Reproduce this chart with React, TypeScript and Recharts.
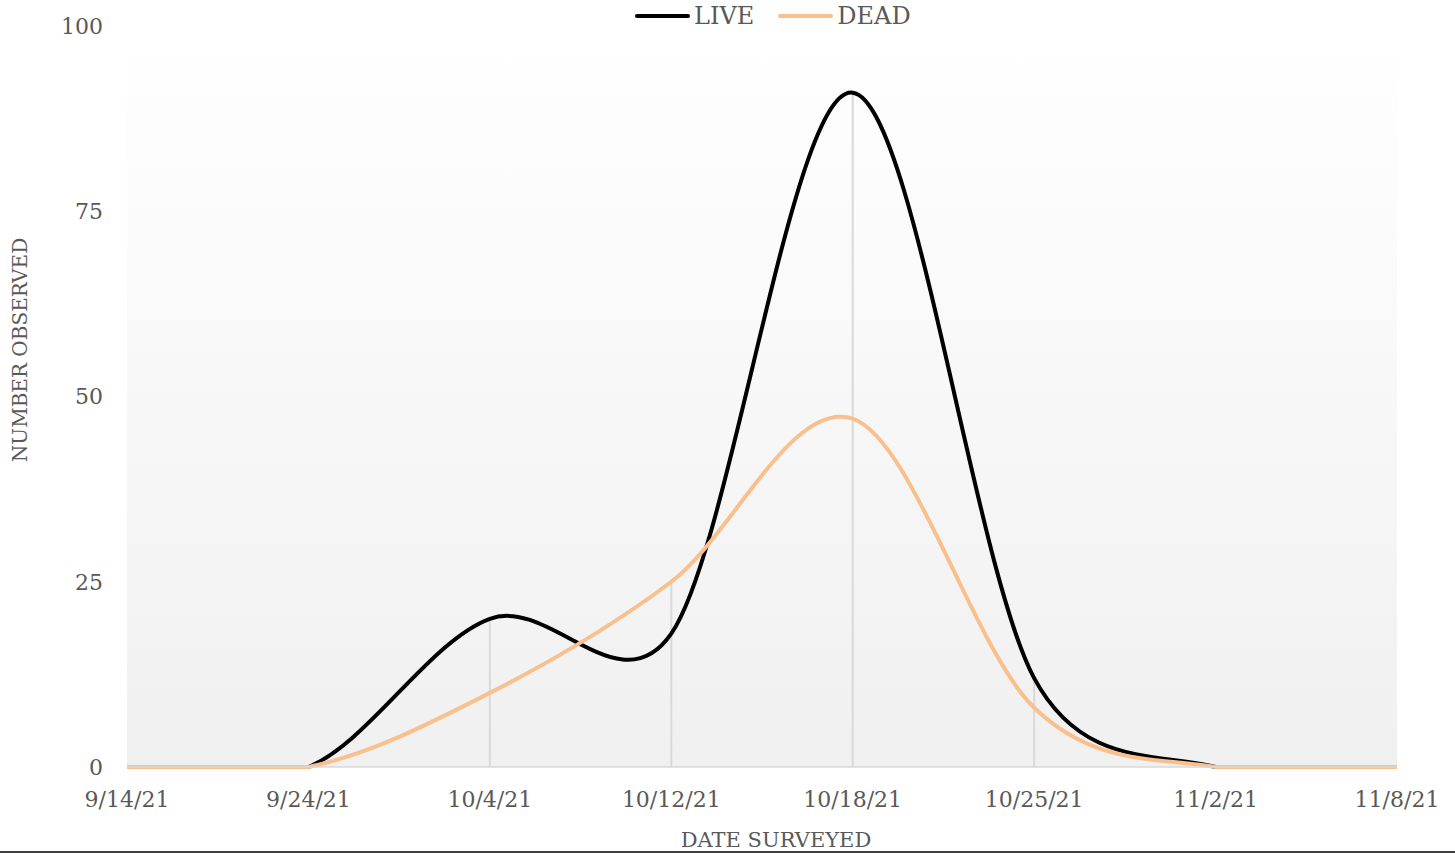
import { ComposedChart, Line, XAxis, YAxis, CartesianGrid, ReferenceLine, Label } from 'recharts'

const dates = ['9/14/21', '9/24/21', '10/4/21', '10/12/21', '10/18/21', '10/25/21', '11/2/21', '11/8/21']
const live = [0, 0, 20, 18, 91, 12, 0, 0]
const dead = [0, 0, 10, 25, 47, 8, 0, 0]
const yTicks = [0, 25, 50, 75, 100]

const data = dates.map((date, i) => ({ date, live: live[i], dead: dead[i] }))

const FONT = '"DejaVu Serif", serif'
const TEXT = '#595959'
const LIVE_COLOR = '#000000'
const DEAD_COLOR = '#f9c08e'

// smoothed line like the spreadsheet one: catmull-rom beziers (1/6),
// handles capped at half the segment, flat runs stay flat
function smoothCurve(context: any) {
  let pts: number[][] = []
  const handle = (dx: number, dy: number, seg: number) => {
    const len = Math.hypot(dx, dy)
    const k = len > seg * 0.5 ? (seg * 0.5) / len : 1
    return [dx * k, dy * k]
  }
  return {
    areaStart() {},
    areaEnd() {},
    lineStart() {
      pts = []
    },
    point(x: number, y: number) {
      pts.push([+x, +y])
    },
    lineEnd() {
      const n = pts.length
      if (!n) return
      context.moveTo(pts[0][0], pts[0][1])
      for (let i = 0; i < n - 1; i++) {
        const p0 = pts[Math.max(i - 1, 0)]
        const p1 = pts[i]
        const p2 = pts[i + 1]
        const p3 = pts[Math.min(i + 2, n - 1)]
        const seg = Math.hypot(p2[0] - p1[0], p2[1] - p1[1])
        const flat = Math.abs(p1[1] - p2[1]) < 0.01
        const h1 = handle((p2[0] - p0[0]) / 6, (p2[1] - p0[1]) / 6, seg)
        const h2 = handle((p3[0] - p1[0]) / 6, (p3[1] - p1[1]) / 6, seg)
        context.bezierCurveTo(
          p1[0] + h1[0],
          flat ? p1[1] : p1[1] + h1[1],
          p2[0] - h2[0],
          flat ? p2[1] : p2[1] - h2[1],
          p2[0],
          p2[1]
        )
      }
    },
  }
}

function LegendBox() {
  const items = [
    { name: 'LIVE', color: LIVE_COLOR },
    { name: 'DEAD', color: DEAD_COLOR },
  ]
  return (
    <div style={{ position: 'absolute', left: 635, top: 2, display: 'flex', alignItems: 'center', gap: 24 }}>
      {items.map((it) => (
        <div key={it.name} style={{ display: 'flex', alignItems: 'center' }}>
          <span style={{ display: 'inline-block', width: 55, height: 4, borderRadius: 2, background: it.color, marginRight: 4 }} />
          <span style={{ fontFamily: FONT, fontSize: 24, color: TEXT, lineHeight: '28px' }}>{it.name}</span>
        </div>
      ))}
    </div>
  )
}

export default function App() {
  return (
    <div style={{ position: 'absolute', left: 0, top: 0, width: 1455, height: 854, background: '#fff' }}>
      <ComposedChart width={1455} height={854} data={data} margin={{ top: 26, right: 58, bottom: 57, left: 27 }}>
        <defs>
          <linearGradient id="plotBg" x1="0" y1="0" x2="0" y2="1">
            <stop offset="0%" stopColor="#ffffff" />
            <stop offset="100%" stopColor="#f0f0f0" />
          </linearGradient>
        </defs>
        <CartesianGrid horizontal={false} vertical={false} fill="url(#plotBg)" />
        <XAxis
          dataKey="date"
          scale="point"
          interval={0}
          tickLine={false}
          tickSize={0}
          tickMargin={24}
          axisLine={{ stroke: '#d9d9d9', strokeWidth: 1.5 }}
          tick={{ fill: TEXT, fontSize: 22, fontFamily: FONT }}
        >
          <Label
            content={() => (
              <text x={776} y={847} textAnchor="middle" fill={TEXT} fontSize={21} fontFamily={FONT}>
                DATE SURVEYED
              </text>
            )}
          />
        </XAxis>
        <YAxis
          width={100}
          domain={[0, 100]}
          ticks={yTicks}
          axisLine={false}
          tickLine={false}
          tickSize={0}
          tickMargin={24}
          tick={{ fill: TEXT, fontSize: 22, fontFamily: FONT }}
        >
          <Label
            content={() => (
              <text
                x={27}
                y={350}
                textAnchor="middle"
                fill={TEXT}
                fontSize={20}
                fontFamily={FONT}
                transform="rotate(-90 27 350)"
              >
                NUMBER OBSERVED
              </text>
            )}
          />
        </YAxis>
        {data
          .filter((d) => Math.max(d.live, d.dead) > 0)
          .map((d) => (
            <ReferenceLine
              key={d.date}
              segment={[
                { x: d.date, y: 0 },
                { x: d.date, y: Math.max(d.live, d.dead) },
              ]}
              stroke="#d9d9d9"
              strokeWidth={2}
            />
          ))}
        <Line
          dataKey="live"
          name="LIVE"
          type={smoothCurve as any}
          stroke={LIVE_COLOR}
          strokeWidth={4}
          dot={false}
          activeDot={false}
          isAnimationActive={false}
        />
        <Line
          dataKey="dead"
          name="DEAD"
          type={smoothCurve as any}
          stroke={DEAD_COLOR}
          strokeWidth={4}
          dot={false}
          activeDot={false}
          isAnimationActive={false}
        />
      </ComposedChart>
      <LegendBox />
      <div style={{ position: 'absolute', left: 0, top: 851, width: 1455, height: 2, background: '#404040' }} />
    </div>
  )
}
